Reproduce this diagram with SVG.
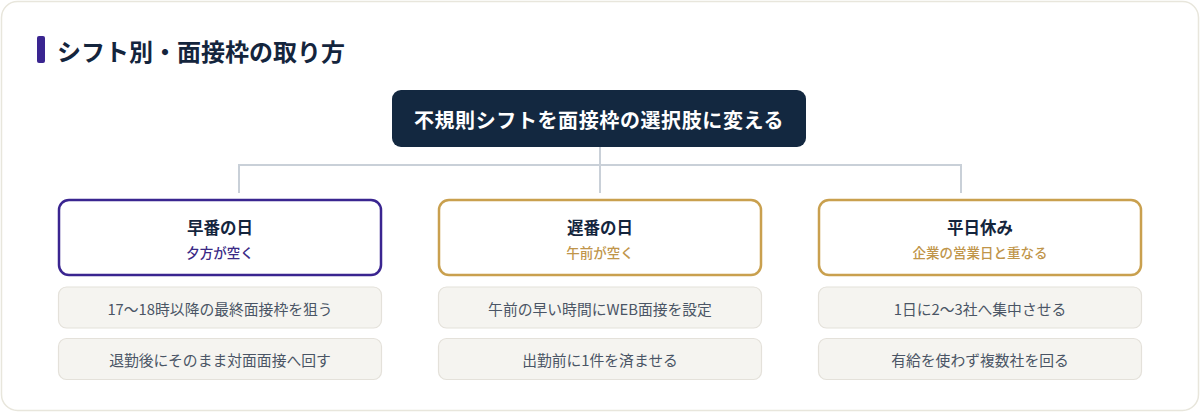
<svg xmlns="http://www.w3.org/2000/svg" width="1200" height="412" viewBox="0 0 1200 412">
<style>
text{font-family:"Noto Sans CJK JP","Noto Sans",sans-serif;text-anchor:middle;dominant-baseline:central}
.card{fill:#ffffff;stroke:#e8e6dc;stroke-width:1.5}
.ttl{font-size:24px;font-weight:700;fill:#14253d;text-anchor:start}
.root{fill:#132840}
.roott{font-size:20px;font-weight:700;fill:#ffffff;letter-spacing:0.6px}
.node{fill:#ffffff;stroke-width:2.5}
.np{stroke:#3a2590}
.ng{stroke:#c9a04e}
.nt{font-size:16.5px;font-weight:700;fill:#14253d}
.sp{font-size:13.5px;font-weight:500;fill:#3a2a86}
.sg{font-size:13.5px;font-weight:500;fill:#c0954a}
.sub{fill:#f5f4f0;stroke:#e4e1da;stroke-width:1.2}
.st{font-size:14.8px;fill:#4a5565}
.conn{fill:none;stroke:#c9d0d8;stroke-width:2}
</style>
<rect class="card" x="1.5" y="1.5" width="1197" height="409" rx="16"/>
<g id="title">
<rect x="37" y="36" width="8" height="27" rx="2" fill="#3a2590"/>
<text class="ttl" x="57" y="50">シフト別・面接枠の取り方</text>
</g>
<g id="connectors">
<path class="conn" d="M600 147 V193 M239 193 V165 H961 V193"/>
</g>
<g id="root">
<rect class="root" x="392" y="90" width="414" height="57" rx="9"/>
<text class="roott" x="599" y="119">不規則シフトを面接枠の選択肢に変える</text>
</g>
<g id="early">
<rect class="node np" x="59" y="200" width="322" height="75" rx="10"/>
<text class="nt" x="220" y="227">早番の日</text>
<text class="sp" x="220" y="252">夕方が空く</text>
</g>
<g id="early-1">
<rect class="sub" x="58.5" y="287" width="323" height="41" rx="8"/>
<text class="st" x="220" y="308">17〜18時以降の最終面接枠を狙う</text>
</g>
<g id="early-2">
<rect class="sub" x="58.5" y="338.5" width="323" height="41" rx="8"/>
<text class="st" x="220" y="359">退勤後にそのまま対面面接へ回す</text>
</g>
<g id="late">
<rect class="node ng" x="439" y="200" width="322" height="75" rx="10"/>
<text class="nt" x="600" y="227">遅番の日</text>
<text class="sg" x="600" y="252">午前が空く</text>
</g>
<g id="late-1">
<rect class="sub" x="438.5" y="287" width="323" height="41" rx="8"/>
<text class="st" x="600" y="308">午前の早い時間にWEB面接を設定</text>
</g>
<g id="late-2">
<rect class="sub" x="438.5" y="338.5" width="323" height="41" rx="8"/>
<text class="st" x="600" y="359">出勤前に1件を済ませる</text>
</g>
<g id="weekday">
<rect class="node ng" x="819" y="200" width="322" height="75" rx="10"/>
<text class="nt" x="980" y="227">平日休み</text>
<text class="sg" x="980" y="252">企業の営業日と重なる</text>
</g>
<g id="weekday-1">
<rect class="sub" x="818.5" y="287" width="323" height="41" rx="8"/>
<text class="st" x="980" y="308">1日に2〜3社へ集中させる</text>
</g>
<g id="weekday-2">
<rect class="sub" x="818.5" y="338.5" width="323" height="41" rx="8"/>
<text class="st" x="980" y="359">有給を使わず複数社を回る</text>
</g>
</svg>
